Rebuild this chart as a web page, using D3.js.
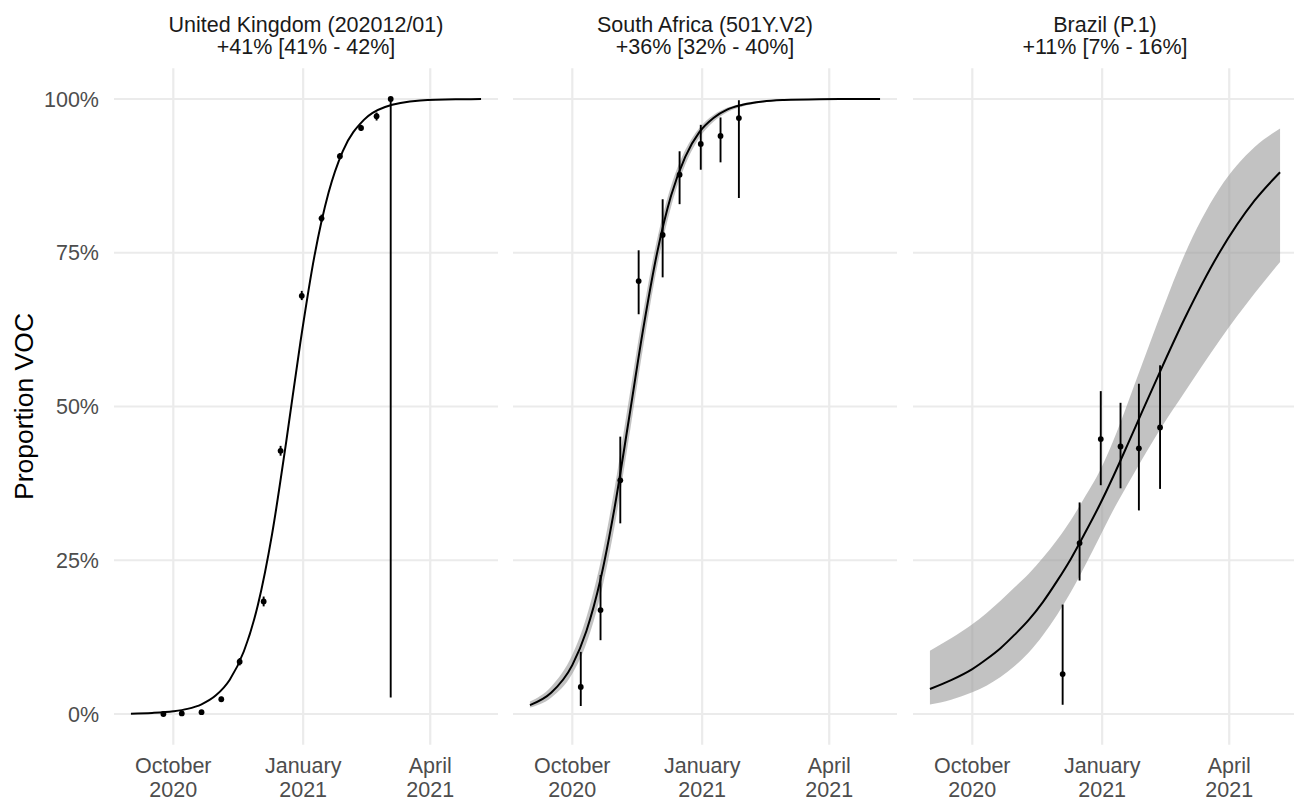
<!DOCTYPE html>
<html>
<head>
<meta charset="utf-8">
<style>
  body { margin: 0; background: #fff; }
  text { font-family: "Liberation Sans", Arial, sans-serif; }
</style>
</head>
<body>
<svg width="1294" height="801"></svg>
<script src="https://d3js.org/d3.v7.min.js"></script>
<script>

// ---- data (percent) ----

var panelTitles = [
  ["United Kingdom (202012/01)", "+41% [41% - 42%]"],
  ["South Africa (501Y.V2)", "+36% [32% - 40%]"],
  ["Brazil (P.1)", "+11% [7% - 16%]"]
];

var yTicks = [0, 25, 50, 75, 100];
var yTickLabels = ["0%", "25%", "50%", "75%", "100%"];
var xTickDates = ["2020-10-01", "2021-01-01", "2021-04-01"];
var xTickLabels = [["October", "2020"], ["January", "2021"], ["April", "2021"]];

// fitted curves
var fitDates = ["2020-09-01","2020-09-16","2020-10-01","2020-10-11","2020-10-21","2020-10-31",
  "2020-11-10","2020-11-20","2020-11-30","2020-12-10","2020-12-20","2020-12-30","2021-01-09",
  "2021-01-19","2021-01-29","2021-02-13","2021-02-28","2021-03-25","2021-04-19","2021-05-07"];

var ukFit = [0.06,0.17,0.44,0.83,1.58,2.99,5.57,10.2,17.8,29.3,44.3,60.4,74.5,84.8,91.5,96.6,98.7,99.74,99.95,99.98];

var saFit = [1.45,3.45,7.95,13.5,21.9,33.6,47.8,62.3,74.9,84.3,90.6,94.6,96.9,98.3,99.03,99.6,99.83,99.96,99.99,100];
var saFitLo = [1.04,2.66,6.54,11.5,19.3,30.6,44.7,59.4,72.6,82.5,89.3,93.7,96.3,97.9,98.76,99.45,99.75,99.93,99.98,99.99];
var saFitHi = [2.02,4.45,9.64,15.75,24.7,36.8,51.0,65.1,77.1,85.9,91.7,95.3,97.4,98.6,99.24,99.71,99.9,99.98,100,100];

var brFit = [4.06,5.5,7.3,8.9,10.7,12.9,15.3,18.2,21.6,25.3,29.5,33.9,38.7,43.8,49.0,56.7,64.1,75.0,83.5,88.1];
var brFitLo = [1.54,2.32,3.52,4.60,6.0,7.8,9.98,12.8,16.1,19.9,24.2,28.7,33.2,37.3,41.3,47.0,52.2,60.7,68.4,73.5];
var brFitHi = [10.3,12.3,14.6,16.4,18.4,20.6,22.8,25.4,28.3,31.6,35.4,39.4,44.5,50.5,56.7,65.9,74.5,85.4,92.2,95.2];

// observed proportions with intervals
var ukObsDates = ["2020-09-24","2020-10-07","2020-10-21","2020-11-04","2020-11-17","2020-12-04",
  "2020-12-16","2020-12-31","2021-01-14","2021-01-27","2021-02-11","2021-02-22","2021-03-04"];
var ukObs   = [0.0,0.1,0.3,2.4,8.5,18.3,42.8,68.0,80.6,90.7,95.3,97.2,100];
var ukObsLo = [0.0,0.0,0.1,2.0,7.9,17.5,42.0,67.3,80.0,90.2,94.8,96.5,2.7];
var ukObsHi = [0.1,0.3,0.5,2.8,9.1,19.1,43.6,68.8,81.2,91.2,95.8,97.8,100];

var saObsDates = ["2020-10-07","2020-10-21","2020-11-04","2020-11-17","2020-12-04",
  "2020-12-16","2020-12-31","2021-01-14","2021-01-27"];
var saObs   = [4.4,16.9,38.0,70.4,77.9,87.7,92.7,94.0,96.9];
var saObsLo = [1.3,12.0,31.0,65.0,71.0,82.9,88.5,89.7,83.9];
var saObsHi = [10.1,22.6,45.1,75.4,83.7,91.5,95.8,97.0,99.8];

var brObsDates = ["2020-12-04","2020-12-16","2020-12-31","2021-01-14","2021-01-27","2021-02-11"];
var brObs   = [6.5,27.8,44.7,43.5,43.2,46.6];
var brObsLo = [1.5,21.7,37.2,36.7,33.1,36.6];
var brObsHi = [17.8,34.4,52.5,50.6,53.7,56.7];

// ---- chart ----

var parse = d3.utcParse("%Y-%m-%d");

var panels = [
  {fit: ukFit, lo: null, hi: null, od: ukObsDates, o: ukObs, ol: ukObsLo, oh: ukObsHi},
  {fit: saFit, lo: saFitLo, hi: saFitHi, od: saObsDates, o: saObs, ol: saObsLo, oh: saObsHi},
  {fit: brFit, lo: brFitLo, hi: brFitHi, od: brObsDates, o: brObs, ol: brObsLo, oh: brObsHi}
];

var svg = d3.select("svg");
var panelLeft = [114, 513, 913],
    panelWidth = 384;

var y = d3.scaleLinear().domain([0, 100]).range([714, 99]);
var yTop = y(105), yBottom = y(-5);

var grid = "#ebebeb";

panels.forEach(function(p, i) {
  var x = d3.scaleUtc()
      .domain([parse("2020-08-20"), parse("2021-05-19")])
      .range([panelLeft[i], panelLeft[i] + panelWidth]);

  var g = svg.append("g");

  // grid
  g.selectAll(".hgrid").data(yTicks).enter().append("line")
      .attr("x1", x.range()[0]).attr("x2", x.range()[1])
      .attr("y1", function(d) { return y(d); }).attr("y2", function(d) { return y(d); })
      .attr("stroke", grid).attr("stroke-width", 2.2);
  g.selectAll(".vgrid").data(xTickDates).enter().append("line")
      .attr("x1", function(d) { return x(parse(d)); }).attr("x2", function(d) { return x(parse(d)); })
      .attr("y1", yTop).attr("y2", yBottom)
      .attr("stroke", grid).attr("stroke-width", 2.2);

  // strip title
  var t = g.append("text")
      .attr("x", panelLeft[i] + panelWidth / 2)
      .attr("text-anchor", "middle")
      .attr("font-size", 21.5)
      .attr("fill", "#1a1a1a");
  t.append("tspan").attr("x", panelLeft[i] + panelWidth / 2).attr("y", 32.3).text(panelTitles[i][0]);
  t.append("tspan").attr("x", panelLeft[i] + panelWidth / 2).attr("y", 54.3).text(panelTitles[i][1]);

  // x tick labels
  xTickDates.forEach(function(d, k) {
    var lab = g.append("text")
        .attr("text-anchor", "middle")
        .attr("font-size", 21.5)
        .attr("fill", "#4d4d4d");
    lab.append("tspan").attr("x", x(parse(d))).attr("y", 773.3).text(xTickLabels[k][0]);
    lab.append("tspan").attr("x", x(parse(d))).attr("y", 797.3).text(xTickLabels[k][1]);
  });

  // ribbon
  if (p.lo) {
    var area = d3.area()
        .x(function(d, k) { return x(parse(fitDates[k])); })
        .y0(function(d, k) { return y(p.lo[k]); })
        .y1(function(d, k) { return y(p.hi[k]); })
        .curve(d3.curveMonotoneX);
    g.append("path")
        .attr("d", area(fitDates))
        .attr("fill", "#999999")
        .attr("fill-opacity", 0.6);
  }

  // fitted line
  var line = d3.line()
      .x(function(d, k) { return x(parse(fitDates[k])); })
      .y(function(d) { return y(d); })
      .curve(d3.curveMonotoneX);
  g.append("path")
      .attr("d", line(p.fit))
      .attr("fill", "none")
      .attr("stroke", "#000")
      .attr("stroke-width", 2);

  // error bars
  g.selectAll(".err").data(p.od).enter().append("line")
      .attr("x1", function(d) { return x(parse(d)); })
      .attr("x2", function(d) { return x(parse(d)); })
      .attr("y1", function(d, k) { return y(p.ol[k]); })
      .attr("y2", function(d, k) { return y(p.oh[k]); })
      .attr("stroke", "#000")
      .attr("stroke-width", 1.9);

  // points
  g.selectAll(".pt").data(p.od).enter().append("circle")
      .attr("cx", function(d) { return x(parse(d)); })
      .attr("cy", function(d, k) { return y(p.o[k]); })
      .attr("r", 2.9)
      .attr("fill", "#000");
});

// y tick labels (left panel only)
svg.append("g").selectAll("text").data(yTicks).enter().append("text")
    .attr("x", 99)
    .attr("y", function(d) { return y(d); })
    .attr("dy", "0.36em")
    .attr("text-anchor", "end")
    .attr("font-size", 21.5)
    .attr("fill", "#4d4d4d")
    .text(function(d, k) { return yTickLabels[k]; });

// y axis title
svg.append("text")
    .attr("transform", "translate(32.5," + y(50) + ") rotate(-90)")
    .attr("text-anchor", "middle")
    .attr("font-size", 26.5)
    .attr("fill", "#000")
    .text("Proportion VOC");

</script>
</body>
</html>
